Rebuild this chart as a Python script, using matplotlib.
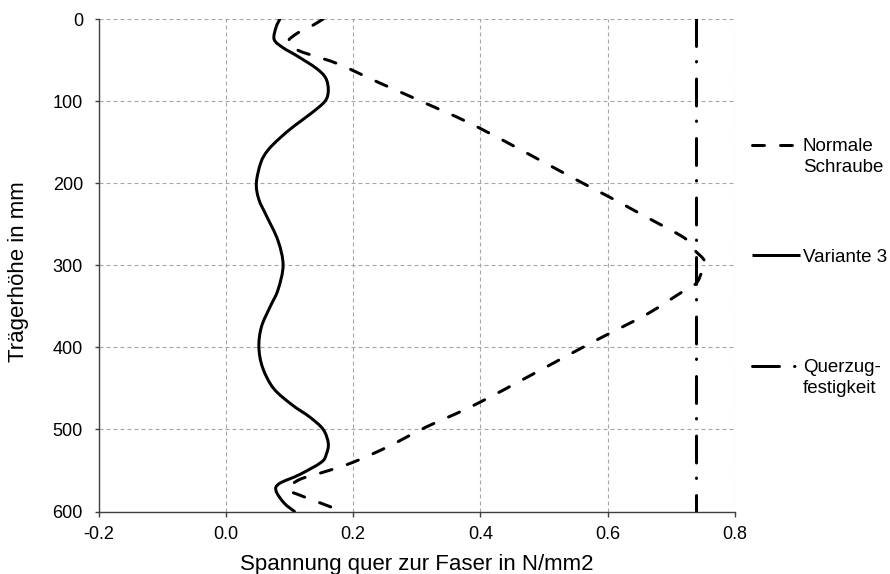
import matplotlib
matplotlib.use("Agg")
import numpy as np
import matplotlib.pyplot as plt
from matplotlib.lines import Line2D
from matplotlib.path import Path
from matplotlib.patches import PathPatch

# Trägerhöhe (mm) og spenning for "Variante 3"
hoehe_var3 = [0, 10, 25, 35, 45, 60, 72, 87, 100, 115, 130, 145, 160, 175, 200, 220, 240,
              270, 300, 330, 350, 375, 400, 425, 450, 470, 485, 500, 517, 530, 540, 555,
              566, 575, 590, 600]
spannung_var3 = [0.085, 0.079, 0.076, 0.090, 0.112, 0.142, 0.157, 0.161, 0.156, 0.134, 0.108,
                 0.085, 0.066, 0.055, 0.048, 0.052, 0.064, 0.082, 0.090, 0.082, 0.070, 0.056,
                 0.052, 0.058, 0.075, 0.104, 0.132, 0.153, 0.161, 0.158, 0.150, 0.116,
                 0.084, 0.079, 0.092, 0.108]

# "Normale Schraube"
hoehe_normal = [0, 8.5, 17, 28, 39, 54, 78, 103, 133, 198, 217, 241, 267, 282, 292, 300,
                310, 322, 332, 359, 383, 402, 467, 497, 521, 540, 551, 561, 573, 580, 588, 600]
spannung_normal = [0.153, 0.135, 0.113, 0.098, 0.116, 0.174, 0.242, 0.315, 0.399, 0.556, 0.603,
                   0.660, 0.721, 0.737, 0.750, 0.754, 0.747, 0.739, 0.718, 0.663, 0.603, 0.556,
                   0.399, 0.315, 0.255, 0.200, 0.158, 0.116, 0.098, 0.116, 0.143, 0.184]

# Querzugfestigkeit (konstant)
hoehe_quer = [0, 600]
spannung_quer = [0.739, 0.739]

x_ticks = [-0.2, 0.0, 0.2, 0.4, 0.6, 0.8]
x_labels = ["-0.2", "0.0", "0.2", "0.4", "0.6", "0.8"]
y_ticks = [0, 100, 200, 300, 400, 500, 600]

legend_labels = ["Normale\nSchraube", "Variante 3", "Querzug-\nfestigkeit"]

W, H = 890, 574
PT = 72 / 100  # px -> pt ved dpi 100

plt.rcParams['font.family'] = ['Liberation Sans', 'DejaVu Sans']
plt.rcParams['lines.scale_dashes'] = False

DASH = (0, (12 * PT, 16 * PT))
DASHDOT = (0, (27 * PT, 15 * PT, 0.5 * PT, 17 * PT))
LW = 3 * PT


def fx(px):
    return px / W


def fy(py):
    return 1 - py / H


def init_plot():
    fig = plt.figure(figsize=(W / 100, H / 100), dpi=100)
    ax = fig.add_axes([fx(98.5), fy(511.5), fx(735) - fx(98.5), fy(19) - fy(511.5)])
    ax.set_xlim(-0.2, 0.8)
    ax.set_ylim(600, 0)
    ax.set_xticks(x_ticks)
    ax.set_xticklabels(x_labels)
    ax.set_yticks(y_ticks)
    ax.tick_params(direction='out', length=4.5 * PT, width=1, color='#404040',
                   labelsize=13, pad=7)
    ax.tick_params(axis='y', pad=8)
    for s in ['top', 'right']:
        ax.spines[s].set_visible(False)
    for s in ['left', 'bottom']:
        ax.spines[s].set_color('#404040')
        ax.spines[s].set_linewidth(1)
    ax.set_axisbelow(True)
    ax.grid(True, color='#a6a6a6', linewidth=0.8, linestyle=(0, (4 * PT, 3 * PT)))
    ax.set_xlabel("Spannung quer zur Faser in N/mm2", fontsize=16, va='baseline')
    ax.set_ylabel("Trägerhöhe in mm", fontsize=16)
    ax.xaxis.set_label_coords(0.5, (511.5 - 570) / 492.5)
    ax.yaxis.set_label_coords((29 - 98.5) / 636.5, 0.487)
    return fig, ax


# Glattet linje som i Excel (Catmull-Rom -> Bezier i skjermkoordinater)
def glatt_kurve(ax, xs, ys, **kw):
    p = ax.transData.transform(np.column_stack([xs, ys]))
    n = len(p)
    verts = [p[0]]
    codes = [Path.MOVETO]
    for i in range(n - 1):
        p0 = p[max(i - 1, 0)]
        p1 = p[i]
        p2 = p[i + 1]
        p3 = p[min(i + 2, n - 1)]
        c1 = p1 + (p2 - p0) / 6
        c2 = p2 - (p3 - p1) / 6
        verts += [c1, c2, p2]
        codes += [Path.CURVE4] * 3
    verts = ax.transData.inverted().transform(np.array(verts))
    patch = PathPatch(Path(verts, codes), fill=False, edgecolor='black', **kw)
    patch.set_capstyle('round')
    patch.set_joinstyle('round')
    ax.add_patch(patch)


def main():
    fig, ax = init_plot()
    glatt_kurve(ax, spannung_normal, hoehe_normal, linewidth=LW, linestyle=DASH)
    glatt_kurve(ax, spannung_var3, hoehe_var3, linewidth=LW)
    ax.plot(spannung_quer, hoehe_quer, color='black', linewidth=LW, linestyle=DASHDOT,
            dash_capstyle='round')

    # Legende manuelt, linje på høyde med første tekstlinje
    stiler = [DASH, '-', DASHDOT]
    ys = [144.5, 255, 365.7]
    for stil, y, tekst in zip(stiler, ys, legend_labels):
        fig.add_artist(Line2D([fx(752), fx(800)], [fy(y), fy(y)], transform=fig.transFigure,
                              color='black', linewidth=LW, linestyle=stil,
                              dash_capstyle='round', solid_capstyle='butt'))
        for i, linje in enumerate(tekst.split("\n")):
            fig.text(fx(803), fy(y + 6.6 + i * 21), linje, fontsize=13.5,
                     va='baseline', ha='left')

    fig.savefig("out.png", dpi=100)


main()
